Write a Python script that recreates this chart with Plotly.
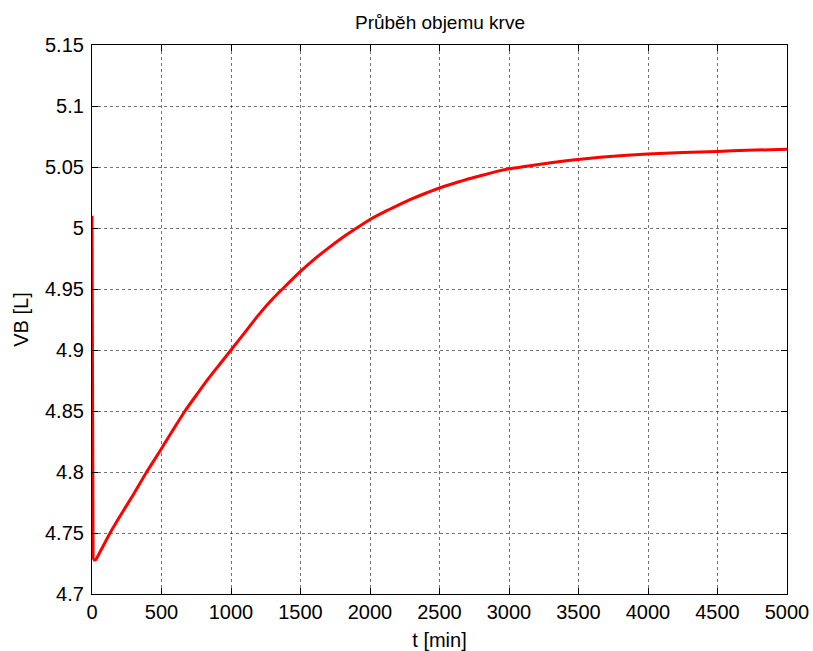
import plotly.graph_objects as go

# Data
# initial transient (sharp drop right after t = 0)
t_drop = [0, 3, 8]
vb_drop = [5.010, 4.748, 4.728]
# recovery phase
t_min = [8, 25, 60, 130, 200, 300, 393, 489, 580, 669, 760, 837, 920,
         1000, 1100, 1200, 1300, 1370, 1496, 1600, 1700, 1800, 1904, 2000,
         2100, 2200, 2300, 2400, 2500, 2600, 2700, 2800, 2935, 3000, 3175,
         3300, 3492, 3700, 3996, 4250, 4498, 4712, 5000]
vb_l = [4.728, 4.728, 4.735, 4.750, 4.7635, 4.782, 4.800, 4.8172, 4.834, 4.850,
        4.8645, 4.8765, 4.8885, 4.900, 4.9145, 4.929, 4.942, 4.950, 4.964,
        4.9745, 4.9835, 4.992, 5.000, 5.007, 5.013, 5.0185, 5.0238, 5.0285,
        5.0328, 5.0365, 5.040, 5.043, 5.047, 5.0485, 5.0515, 5.0535, 5.0562,
        5.0585, 5.0607, 5.0618, 5.0628, 5.0637, 5.0645]

x_ticks = [0, 500, 1000, 1500, 2000, 2500, 3000, 3500, 4000, 4500, 5000]
x_tick_text = [str(v) for v in x_ticks]
y_ticks = [4.7, 4.75, 4.8, 4.85, 4.9, 4.95, 5.0, 5.05, 5.1, 5.15]
y_tick_text = ["4.7", "4.75", "4.8", "4.85", "4.9", "4.95", "5", "5.05", "5.1", "5.15"]

title_text = "Průběh objemu krve"
x_title = "t [min]"
y_title = "VB [L]"

font_family = "Liberation Sans, Arial, sans-serif"

fig = go.Figure()
fig.add_trace(go.Scatter(x=t_drop, y=vb_drop, mode="lines",
                         line=dict(color="#ff0000", width=3),
                         showlegend=False))
fig.add_trace(go.Scatter(x=t_min, y=vb_l, mode="lines",
                         line=dict(color="#ff0000", width=3, shape="spline", smoothing=0.6),
                         showlegend=False))

axis_common = dict(
    showline=True, linecolor="black", linewidth=1.2, mirror="ticks",
    ticks="inside", ticklen=6, tickcolor="black", tickwidth=1,
    showgrid=True, gridcolor="rgba(0,0,0,0.55)", gridwidth=1, griddash="dot",
    zeroline=False, automargin=False,
    tickfont=dict(family=font_family, size=20, color="black"),
)

fig.update_layout(
    width=813, height=651,
    margin=dict(l=92, r=26, t=45, b=57),
    paper_bgcolor="white", plot_bgcolor="white",
    font=dict(family=font_family, color="black"),
    title=dict(text=title_text, x=0.5412, xanchor="center", y=0.966, yanchor="middle",
               font=dict(family=font_family, size=19, color="black")),
    xaxis=dict(range=[0, 5000], tickvals=x_ticks, ticktext=x_tick_text,
               title=dict(text=x_title, standoff=10,
                          font=dict(family=font_family, size=20, color="black")),
               **axis_common),
    yaxis=dict(range=[4.7, 5.15], tickvals=y_ticks, ticktext=y_tick_text,
               ticklabelstandoff=3,
               title=dict(text=y_title, standoff=10,
                          font=dict(family=font_family, size=20, color="black")),
               **axis_common),
)

fig.write_html("out.html",
               config={"displayModeBar": False},
               post_script="document.body.style.margin='0';document.body.style.overflow='hidden';")
